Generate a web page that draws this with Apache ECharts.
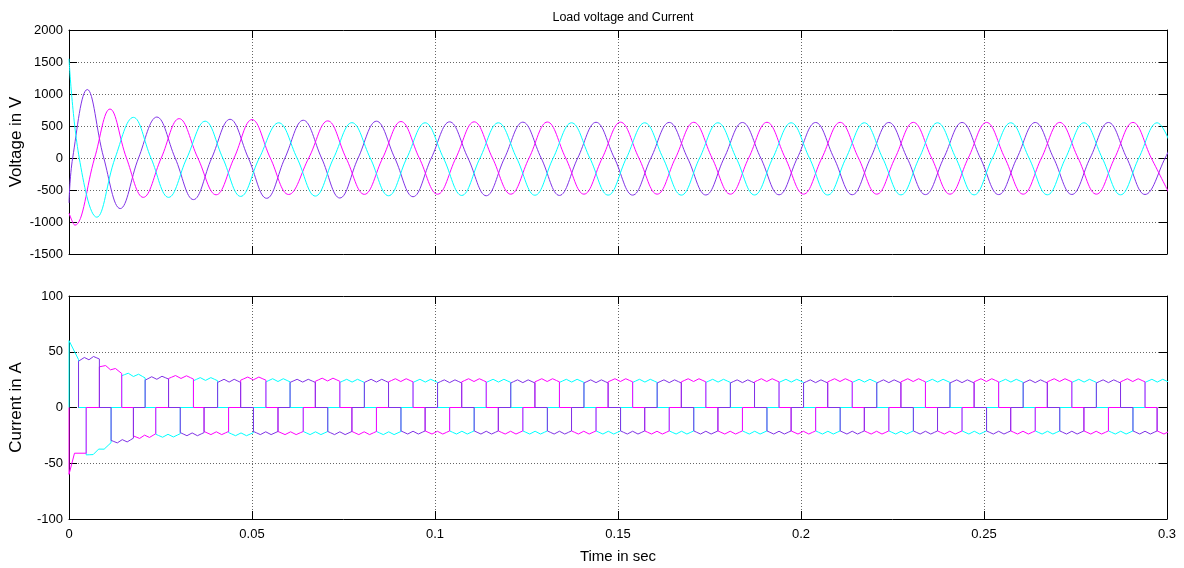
<!DOCTYPE html>
<html>
<head>
<meta charset="utf-8">
<script src="https://cdn.jsdelivr.net/npm/echarts@6/dist/echarts.min.js"></script>
<style>
  html, body { margin: 0; padding: 0; background: #fff; }
  #chart { width: 1184px; height: 568px; }
</style>
</head>
<body>
<div id="chart"></div>
<script>
// time axis ticks (s)
const timeTicks = [0, 0.05, 0.1, 0.15, 0.2, 0.25, 0.3];

// load voltage key points [t, V] (peaks, troughs, zero crossings)
const voltA = [[0,-700],[0.001,0],[0.005,1070],[0.0095,0],[0.014,-790],[0.019,0],[0.024,640],[0.029,0],[0.034,-650],[0.039,0],
  [0.044,605],[0.049,0],[0.054,-630],[0.059,0],[0.064,590],[0.069,0],[0.074,-625],[0.079,0],[0.084,575],[0.089,0],
  [0.094,-605],[0.099,0],[0.104,565],[0.109,0],[0.114,-590],[0.119,0],[0.124,560],[0.129,0],[0.134,-585],[0.139,0],
  [0.144,558],[0.149,0],[0.154,-580],[0.159,0],[0.164,556],[0.169,0],[0.174,-578],[0.179,0],[0.184,555],[0.189,0],
  [0.194,-575],[0.199,0],[0.204,555],[0.209,0],[0.214,-574],[0.219,0],[0.224,555],[0.229,0],[0.234,-572],[0.239,0],
  [0.244,555],[0.249,0],[0.254,-572],[0.259,0],[0.264,555],[0.269,0],[0.274,-570],[0.279,0],[0.284,555],[0.289,0],
  [0.294,-570],[0.2995,0],[0.304,555]];
const voltB = [[0,-860],[0.0016,-1050],[0.007,0],[0.0112,765],[0.0157,0],[0.0203,-615],[0.0252,0],[0.0301,615],[0.0352,0],
  [0.0402,-575],[0.0451,0],[0.05,600],[0.055,0],[0.06,-570],[0.0655,0],[0.0707,580],[0.0757,0],[0.0807,-568],[0.0857,0],
  [0.0907,570],[0.0957,0],[0.1007,-566],[0.1057,0],[0.1107,565],[0.1157,0],[0.1207,-565],[0.1257,0],[0.1307,562],[0.1357,0],
  [0.1407,-565],[0.1457,0],[0.1507,560],[0.1557,0],[0.1607,-565],[0.1657,0],[0.1707,558],[0.1757,0],[0.1807,-565],[0.1857,0],
  [0.1907,558],[0.1957,0],[0.2007,-565],[0.2057,0],[0.2107,557],[0.2157,0],[0.2207,-565],[0.2257,0],[0.2307,557],[0.2357,0],
  [0.2407,-565],[0.2457,0],[0.2507,556],[0.2557,0],[0.2607,-565],[0.2657,0],[0.2707,556],[0.2757,0],[0.2807,-565],[0.2857,0],
  [0.2907,556],[0.2957,0],[0.3007,-565]];
const voltC = [[0,1550],[0.0028,0],[0.0076,-925],[0.0126,0],[0.0176,635],[0.0224,0],[0.0272,-615],[0.0322,0],[0.0372,575],
  [0.042,0],[0.0469,-600],[0.052,0],[0.0573,550],[0.0623,0],[0.0673,-595],[0.0723,0],[0.0773,552],[0.0823,0],[0.0873,-590],
  [0.0923,0],[0.0973,550],[0.1023,0],[0.1073,-585],[0.1123,0],[0.1173,550],[0.1223,0],[0.1273,-582],[0.1323,0],[0.1373,550],
  [0.1423,0],[0.1473,-580],[0.1523,0],[0.1573,550],[0.1623,0],[0.1673,-580],[0.1723,0],[0.1773,550],[0.1823,0],[0.1873,-578],
  [0.1923,0],[0.1973,550],[0.2023,0],[0.2073,-578],[0.2123,0],[0.2173,550],[0.2223,0],[0.2273,-576],[0.2323,0],[0.2373,550],
  [0.2423,0],[0.2473,-576],[0.2523,0],[0.2573,550],[0.2623,0],[0.2673,-575],[0.2723,0],[0.2773,550],[0.2823,0],[0.2873,-575],
  [0.2923,0],[0.2973,550],[0.3023,0]];

// load current conduction pulses [tStart, tEnd, |I| at start, |I| at end]
const curPosA = [[0.0026,0.0083,43,45],[0.0208,0.0272,26,27],[0.0406,0.0469,24],[0.0604,0.0673,24],[0.0807,0.0873,24],
  [0.1007,0.1073,23.5],[0.1207,0.1273,23.5],[0.1407,0.1473,23.5],[0.1607,0.1673,23.5],[0.1807,0.1873,23.5],
  [0.2007,0.2073,23.5],[0.2207,0.2273,23.5],[0.2407,0.2473,23.5],[0.2607,0.2673,23.5],[0.2807,0.2873,23.5]];
const curNegA = [[0.0115,0.0176,31,29],[0.0304,0.0369,24],[0.0504,0.0571,23],[0.0707,0.0773,23],[0.0907,0.0973,22.5],
  [0.1107,0.1173,22.5],[0.1307,0.1373,22.5],[0.1507,0.1573,22.5],[0.1707,0.1773,22.5],[0.1907,0.1973,22.5],
  [0.2107,0.2173,22.5],[0.2307,0.2373,22.5],[0.2507,0.2573,22.5],[0.2707,0.2773,22.5],[0.2907,0.2973,22.5]];
const curPosB = [[0.0083,0.0144,38,32],[0.0272,0.034,27.5,27],[0.0469,0.0538,26],[0.0673,0.074,25],[0.0873,0.094,24.5],
  [0.1073,0.114,24.5],[0.1273,0.134,24.5],[0.1473,0.154,24.5],[0.1673,0.174,24.5],[0.1873,0.194,24.5],
  [0.2073,0.214,24.5],[0.2273,0.234,24.5],[0.2473,0.254,24.5],[0.2673,0.274,24.5],[0.2873,0.294,24.5]];
const curNegB = [[0,0.0015,60,41],[0.0015,0.0047,41],[0.0176,0.0237,27,25],[0.0369,0.0436,23],[0.0571,0.064,23],[0.0773,0.084,23],
  [0.0973,0.104,22.5],[0.1173,0.124,22.5],[0.1373,0.144,22.5],[0.1573,0.164,22.5],[0.1773,0.184,22.5],
  [0.1973,0.204,22.5],[0.2173,0.224,22.5],[0.2373,0.244,22.5],[0.2573,0.264,22.5],[0.2773,0.284,22.5],[0.2973,0.304,22.5]];
const curPosC = [[0,0.0026,60,43],[0.0144,0.0208,30,28],[0.034,0.0406,25.5],[0.0538,0.0604,24.5],[0.074,0.0807,24],
  [0.094,0.1007,24],[0.114,0.1207,24],[0.134,0.1407,24],[0.154,0.1607,24],[0.174,0.1807,24],[0.194,0.2007,24],
  [0.214,0.2207,24],[0.234,0.2407,24],[0.254,0.2607,24],[0.274,0.2807,24],[0.294,0.3007,24]];
const curNegC = [[0.0047,0.0115,44,33],[0.0237,0.0304,25.5,25],[0.0436,0.0504,24],[0.064,0.0707,23],[0.084,0.0907,23],
  [0.104,0.1107,22.5],[0.124,0.1307,22.5],[0.144,0.1507,22.5],[0.164,0.1707,22.5],[0.184,0.1907,22.5],
  [0.204,0.2107,22.5],[0.224,0.2307,22.5],[0.244,0.2507,22.5],[0.264,0.2707,22.5],[0.284,0.2907,22.5]];

// ripple on each pulse top: [fraction of pulse width, deviation in A]
const pulseRipple = [[0,-1.5],[0.12,-0.3],[0.28,1.3],[0.5,-1.2],[0.72,1.3],[0.88,-0.3],[1,-1.5]];

const colA = '#8033E6', colB = '#FF00FF', colC = '#00FFFF';

function pulseTrain(pos, neg) {
  const all = pos.map(p => [p[0], p[1], p[2], p[3] == null ? p[2] : p[3], 1])
    .concat(neg.map(p => [p[0], p[1], p[2], p[3] == null ? p[2] : p[3], -1]))
    .sort((a, b) => a[0] - b[0]);
  const pts = [];
  all.forEach(([t0, t1, a, b, s], i) => {
    const prev = all[i - 1];
    if (!(prev && prev[1] === t0)) pts.push([t0, 0]);
    const rip = (t1 - t0) > 0.005 ? pulseRipple : [[0, 0], [1, 0]];
    rip.forEach(([f, d]) => {
      pts.push([t0 + (t1 - t0) * f, s * (a + (b - a) * f + d)]);
    });
    const next = all[i + 1];
    if (!(next && next[0] === t1)) pts.push([t1, 0]);
  });
  return pts;
}

const font = 'Liberation Sans, Arial, sans-serif';
const grids = [
  { left: 69, right: 17, top: 30, height: 224, containLabel: false, outerBoundsMode: 'none' },
  { left: 69, right: 17, top: 296, height: 223, containLabel: false, outerBoundsMode: 'none' }
];

function xAx(g, opts) {
  return Object.assign({
    gridIndex: g, type: 'value', min: 0, max: 0.3, interval: 0.05,
    axisLine: { onZero: false, lineStyle: { color: '#000', width: 1 } },
    axisTick: { inside: true, length: 8, lineStyle: { color: '#000' } },
    axisLabel: { show: false },
    splitLine: { show: false }
  }, opts);
}
function yAx(g, min, max, step, opts) {
  return Object.assign({
    gridIndex: g, type: 'value', min: min, max: max, interval: step,
    axisLine: { show: true, onZero: false, lineStyle: { color: '#000', width: 1 } },
    axisTick: { show: true, inside: true, length: 8, lineStyle: { color: '#000' } },
    axisLabel: { show: false },
    splitLine: { show: false }
  }, opts);
}
const gridLine = { show: true, lineStyle: { color: '#666', type: [1, 2], width: 1 } };
const tickFmt = v => String(+v.toFixed(2));
const yLabel = { show: true, formatter: v => String(v), color: '#000', fontFamily: font, fontSize: 13, margin: 6 };

const option = {
  animation: false,
  backgroundColor: '#fff',
  title: {
    text: 'Load voltage and Current', left: 618, top: 6, textAlign: 'center',
    textStyle: { fontFamily: font, fontSize: 12.5, fontWeight: 'normal', color: '#000' }
  },
  grid: grids,
  xAxis: [
    xAx(0, { position: 'bottom', splitLine: gridLine }),
    xAx(0, { position: 'top' }),
    xAx(1, {
      position: 'bottom', splitLine: gridLine,
      axisLabel: { show: true, formatter: tickFmt, color: '#000', fontFamily: font, fontSize: 13, margin: 9 },
      name: 'Time in sec', nameLocation: 'middle', nameGap: 30, nameMoveOverlap: false,
      nameTextStyle: { fontFamily: font, fontSize: 15, color: '#000' }
    }),
    xAx(1, { position: 'top' })
  ],
  yAxis: [
    yAx(0, -1500, 2000, 500, {
      position: 'left', splitLine: gridLine, axisLabel: yLabel,
      name: 'Voltage in V', nameLocation: 'middle', nameGap: 44, nameMoveOverlap: false,
      nameTextStyle: { fontFamily: font, fontSize: 17, color: '#000' }
    }),
    yAx(0, -1500, 2000, 500, { position: 'right' }),
    yAx(1, -100, 100, 50, {
      position: 'left', splitLine: gridLine, axisLabel: yLabel,
      name: 'Current in A', nameLocation: 'middle', nameGap: 44, nameMoveOverlap: false,
      nameTextStyle: { fontFamily: font, fontSize: 17, color: '#000' }
    }),
    yAx(1, -100, 100, 50, { position: 'right' })
  ],
  series: [
    { type: 'line', xAxisIndex: 0, yAxisIndex: 0, data: voltA, smooth: 0.4, showSymbol: false, lineStyle: { color: colA, width: 1 } },
    { type: 'line', xAxisIndex: 0, yAxisIndex: 0, data: voltB, smooth: 0.4, showSymbol: false, lineStyle: { color: colB, width: 1 } },
    { type: 'line', xAxisIndex: 0, yAxisIndex: 0, data: voltC, smooth: 0.4, showSymbol: false, lineStyle: { color: colC, width: 1 } },
    { type: 'line', xAxisIndex: 2, yAxisIndex: 2, data: pulseTrain(curPosC, curNegC), smooth: false, showSymbol: false, lineStyle: { color: colC, width: 1 } },
    { type: 'line', xAxisIndex: 2, yAxisIndex: 2, data: pulseTrain(curPosB, curNegB), smooth: false, showSymbol: false, lineStyle: { color: colB, width: 1 } },
    { type: 'line', xAxisIndex: 2, yAxisIndex: 2, data: pulseTrain(curPosA, curNegA), smooth: false, showSymbol: false, lineStyle: { color: colA, width: 1 } }
  ]
};

echarts.init(document.getElementById('chart')).setOption(option);
</script>
</body>
</html>
